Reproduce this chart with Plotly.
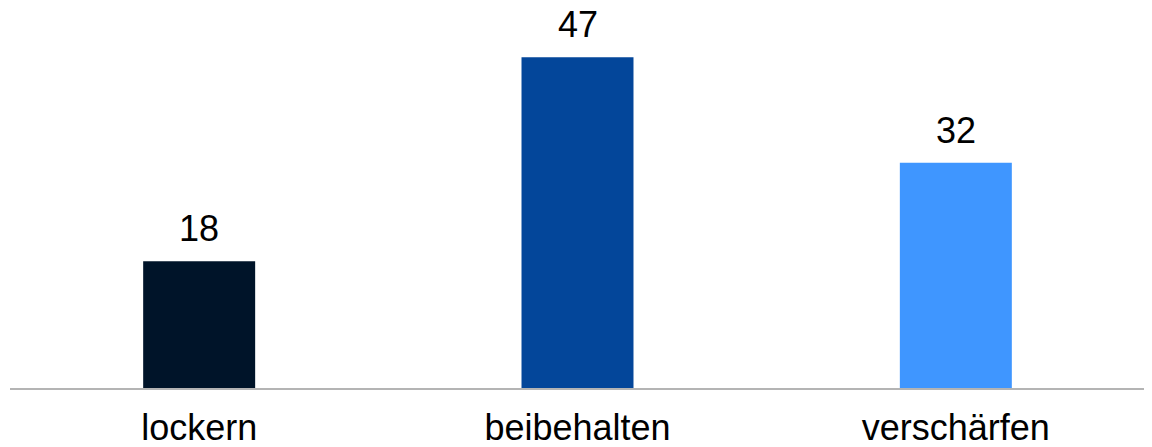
import plotly.graph_objects as go

categories = ["lockern", "beibehalten", "verschärfen"]
values = [18, 47, 32]
colors = ["#001429", "#03469A", "#3F96FF"]

fig = go.Figure()
fig.add_trace(go.Bar(
    x=categories, y=values, marker=dict(color=colors, line=dict(width=0)),
    width=0.296, hoverinfo="skip", cliponaxis=False,
))
for c, v in zip(categories, values):
    fig.add_annotation(x=c, y=v, text=str(v), showarrow=False, yanchor="bottom",
                       yshift=10, font=dict(family="Liberation Sans, Arial", size=36, color="#000000"))

# page body has an 8px default margin: figure is sized to fit the 1152x447 window
fig.update_layout(
    width=1144, height=439,
    margin=dict(l=2, r=7, t=0, b=59, autoexpand=False),
    paper_bgcolor="white", plot_bgcolor="white",
    showlegend=False,
    font=dict(family="Liberation Sans, Arial", size=36, color="#000000"),
    xaxis=dict(showline=True, linecolor="#B4B4B4", linewidth=2, showgrid=False,
               ticks="", tickfont=dict(size=36), ticklabelstandoff=7, automargin=False),
    yaxis=dict(range=[0, 53.98], visible=False, showgrid=False, zeroline=False, automargin=False),
)
fig.write_html("out.html")
